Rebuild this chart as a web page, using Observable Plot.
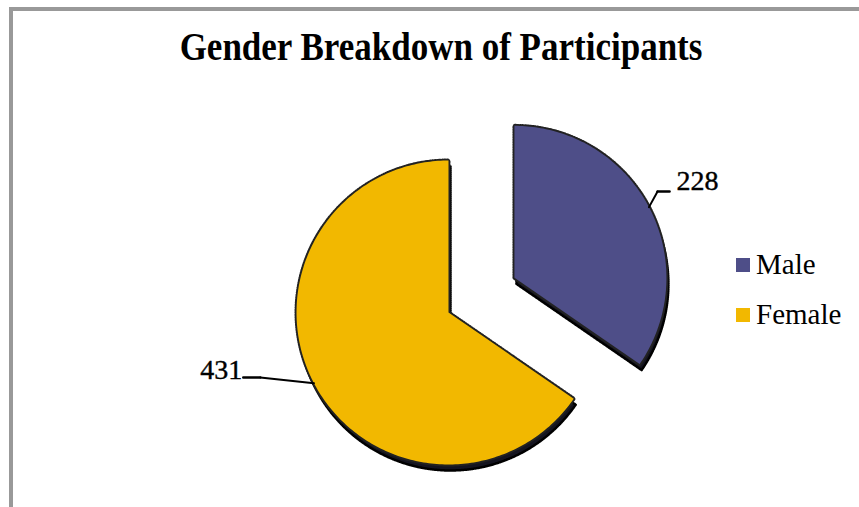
<!DOCTYPE html>
<html><head><meta charset="utf-8">
<script src="https://cdn.jsdelivr.net/npm/d3@7"></script>
<script src="https://cdn.jsdelivr.net/npm/@observablehq/plot@0.6"></script>
<style>
body{margin:0;background:#fff;}
#page{position:relative;width:859px;height:507px;overflow:hidden;background:#fff;font-family:"Liberation Serif","Times New Roman",serif;}
#frame{position:absolute;left:9px;top:7px;right:0;bottom:0;border-top:4px solid #999;border-left:4px solid #999;}
#title{position:absolute;left:0;width:882px;top:28px;text-align:center;font-weight:bold;font-size:35px;letter-spacing:0px;color:#000;white-space:nowrap;transform:scaleY(1.12);transform-origin:50% 50%;}
#chart{position:absolute;left:0;top:0;}
#legend{position:absolute;left:736px;top:248px;}
.lg-swatches{font-family:"Liberation Serif","Times New Roman",serif !important;font-size:29px !important;color:#000;margin:0 !important;}
.lg-swatches .lg-swatch{padding-bottom:17px !important;}
.lg-swatch > svg{margin-right:6px !important;}
</style>
</head><body>
<div id="page">
  <div id="frame"></div>
  <div id="chart"></div>
  <div id="title">Gender Breakdown of Participants</div>
  <div id="legend"></div>
</div>
<script>
// ---- data ----
const categories = ["Male", "Female"];
const counts = [228, 431];
const palette = ["#4e4e88", "#f2b800"];

// ---- layout (not data) ----
const explodeDist = [0.49, 0];
const leaderLayout = {
  Male:   {angleShift: -3.4, r: 1.10, h: 12, side: 1},
  Female: {angleShift: 8.7,  r: 1.31, h: 17, side: -1}
};
const R = 152, CX = 448, CY = 312;

const rows = categories.map((c, i) => ({name: c, count: counts[i], explode: explodeDist[i]}));
const arcs = d3.pie().sort(null).value(d => d.count)(rows);

const poly = [];
const leaders = [];
const labels = [];
arcs.forEach(a => {
  const mid = (a.startAngle + a.endAngle) / 2;
  const ox = a.data.explode * Math.sin(mid), oy = a.data.explode * Math.cos(mid);
  poly.push({name: a.data.name, x: ox, y: oy});
  const n = Math.max(2, Math.ceil((a.endAngle - a.startAngle) / (Math.PI / 180)));
  for (let k = 0; k <= n; k++) {
    const t = a.startAngle + (a.endAngle - a.startAngle) * k / n;
    poly.push({name: a.data.name, x: ox + Math.sin(t), y: oy + Math.cos(t)});
  }
  const L = leaderLayout[a.data.name];
  const ea = mid + L.angleShift * Math.PI / 180;
  const p0 = {x: ox + Math.sin(mid), y: oy + Math.cos(mid)};
  const p1 = {x: ox + L.r * Math.sin(ea), y: oy + L.r * Math.cos(ea)};
  const p2 = {x: p1.x + L.side * L.h / R, y: p1.y};
  leaders.push({name: a.data.name, seg: "diag", ...p0}, {name: a.data.name, seg: "diag", ...p1});
  leaders.push({name: a.data.name + "h", seg: "hor", ...p1}, {name: a.data.name + "h", seg: "hor", ...p2});
  labels.push({name: a.data.name, side: L.side, value: a.data.count, ...p2});
});

const plot = Plot.plot({
  width: 859, height: 507,
  margin: 0,
  x: {domain: [-1, 1], range: [CX - R, CX + R], axis: null},
  y: {domain: [-1, 1], range: [CY + R, CY - R], axis: null},
  color: {domain: categories, range: palette},
  style: {background: "transparent", fontFamily: "Liberation Serif, Times New Roman, serif"},
  marks: [
    // 3D thickness / shadow
    Plot.line(poly, {x: "x", y: "y", z: "name", curve: "linear-closed", fill: "#141420", stroke: "#000", strokeWidth: 2.5, strokeDasharray: "1,1", dx: 2, dy: 6}),
    // dithered outline
    Plot.line(poly, {x: "x", y: "y", z: "name", curve: "linear-closed", fill: "none", stroke: "#222", strokeWidth: 4, strokeDasharray: "1,1.5"}),
    // top faces
    Plot.line(poly, {x: "x", y: "y", z: "name", curve: "linear-closed", fill: "name", stroke: "none"}),
    // leader lines
    Plot.line(leaders.filter(d => d.seg === "diag"), {x: "x", y: "y", z: "name", stroke: "#000", strokeWidth: 2}),
    Plot.line(leaders.filter(d => d.seg === "hor"), {x: "x", y: "y", z: "name", stroke: "#000", strokeWidth: 2.5}),
    // value labels
    Plot.text(labels.filter(d => d.side > 0), {x: "x", y: "y", text: "value", textAnchor: "start", dx: 7, dy: -10, fontSize: 28, fill: "#000", stroke: "#000", strokeWidth: 0.4}),
    Plot.text(labels.filter(d => d.side < 0), {x: "x", y: "y", text: "value", textAnchor: "end", dx: -1, dy: -7, fontSize: 28, fill: "#000", stroke: "#000", strokeWidth: 0.4})
  ]
});
document.getElementById("chart").appendChild(plot);

const legend = Plot.legend({
  color: {domain: categories, range: palette},
  legend: "swatches",
  columns: 1,
  swatchSize: 14,
  className: "lg"
});
document.getElementById("legend").appendChild(legend);
</script>
</body></html>
